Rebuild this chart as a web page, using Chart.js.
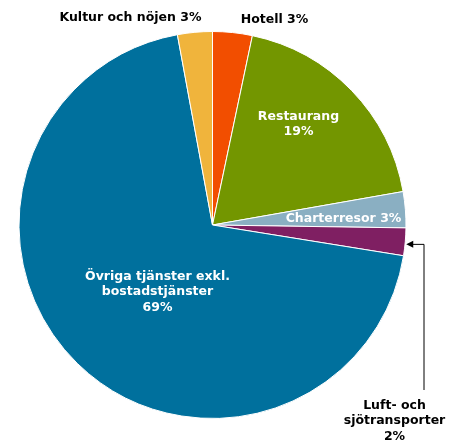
<!DOCTYPE html>
<html>
<head>
<meta charset="utf-8">
<script src="https://cdn.jsdelivr.net/npm/chart.js@4/dist/chart.umd.min.js"></script>
<style>
  body { margin: 0; background: #fff; }
  #wrap { width: 453px; height: 441px; }
</style>
</head>
<body>
<div id="wrap"><canvas id="grafico-pizza"></canvas></div>
<script>
// kategorier och andelar (procent)
const kategorier = [
    ['Hotell'],
    ['Restaurang'],
    ['Charterresor'],
    ['Luft- och', 'sjötransporter'],
    ['Övriga tjänster exkl.', 'bostadstjänster'],
    ['Kultur och nöjen']
];
const andelar = [3.3, 18.9, 3.0, 2.3, 69.45, 2.9];
const farger = ['#F24E00', '#739600', '#8AAFC2', '#7F1F62', '#00709D', '#F0B43C'];

// var etiketterna hamnar, relativt pajens mitt (i pixlar)
const etikettLage = [
    { dx: 62,  dy: -205, farg: '#000', inline: true },
    { dx: 86,  dy: -101, farg: '#fff', inline: false },
    { dx: 131, dy: -6,   farg: '#fff', inline: true },
    { dx: 182, dy: 196,  farg: '#000', inline: false },
    { dx: -55, dy: 67,   farg: '#fff', inline: false },
    { dx: -82, dy: -207, farg: '#000', inline: true }
];

const etiketter = {
    id: 'etiketter',
    afterDatasetsDraw(chart) {
        const ctx = chart.ctx;
        const arcs = chart.getDatasetMeta(0).data;
        ctx.save();
        ctx.font = 'bold 12.5px "DejaVu Sans", Verdana, sans-serif';
        ctx.textAlign = 'center';
        ctx.textBaseline = 'middle';
        arcs.forEach(function(arc, i) {
            const lage = etikettLage[i];
            const pct = Math.round(andelar[i]) + '%';
            let rader = kategorier[i].slice();
            if (lage.inline) {
                rader[rader.length - 1] += ' ' + pct;
            } else {
                rader.push(pct);
            }
            const cx = arc.x + lage.dx;
            const cy = arc.y + lage.dy;
            const lh = 15.5;
            ctx.fillStyle = lage.farg;
            rader.forEach(function(r, j) {
                ctx.fillText(r, cx, cy + (j - (rader.length - 1) / 2) * lh);
            });
        });

        // pil till Luft- och sjötransporter
        const arc = arcs[3];
        const mid = (arc.startAngle + arc.endAngle) / 2;
        const px = arc.x + Math.cos(mid) * arc.outerRadius;
        const py = arc.y + Math.sin(mid) * arc.outerRadius + 2;
        const lx = arc.x + 211;
        ctx.strokeStyle = '#000';
        ctx.lineWidth = 1;
        ctx.beginPath();
        ctx.moveTo(lx + 0.5, arc.y + 165);
        ctx.lineTo(lx + 0.5, py + 0.5);
        ctx.lineTo(px + 6, py + 0.5);
        ctx.stroke();
        ctx.fillStyle = '#000';
        ctx.beginPath();
        ctx.moveTo(px + 1, py + 0.5);
        ctx.lineTo(px + 8, py - 3);
        ctx.lineTo(px + 8, py + 4);
        ctx.closePath();
        ctx.fill();
        ctx.restore();
    }
};

const ctx = document.getElementById('grafico-pizza').getContext('2d');
const grafico = new Chart(ctx, {
    type: 'pie',
    data: {
        labels: kategorier.map(function(k) { return k.join(' '); }),
        datasets: [{
            data: andelar,
            backgroundColor: farger,
            borderColor: '#fff',
            borderWidth: 1
        }]
    },
    options: {
        responsive: true,
        maintainAspectRatio: false,
        animation: false,
        layout: {
            padding: { left: 18, right: 46, top: 31, bottom: 22 }
        },
        plugins: {
            legend: { display: false },
            tooltip: { enabled: false }
        }
    },
    plugins: [etiketter]
});
</script>
</body>
</html>
